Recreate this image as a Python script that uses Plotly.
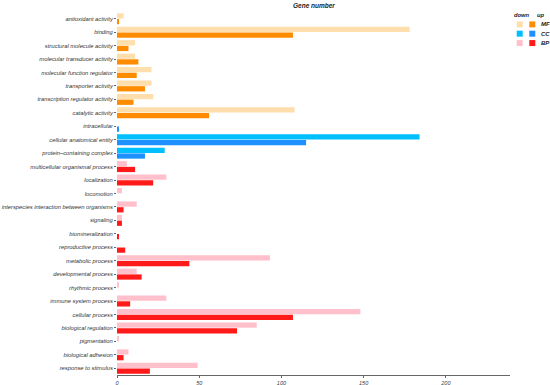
import plotly.graph_objects as go

categories = [
    "antioxidant activity", "binding", "structural molecule activity",
    "molecular transducer activity", "molecular function regulator",
    "transporter activity", "transcription regulator activity", "catalytic activity",
    "intracellular", "cellular anatomical entity", "protein\u2013containing complex",
    "multicellular organismal process", "localization", "locomotion",
    "interspecies interaction between organisms", "signaling", "biomineralization",
    "reproductive process", "metabolic process", "developmental process",
    "rhythmic process", "immune system process", "cellular process",
    "biological regulation", "pigmentation", "biological adhesion",
    "response to stimulus",
]
groups = ["MF"] * 8 + ["CC"] * 3 + ["BP"] * 16
down_values = [4, 178, 11, 11, 21, 21, 22, 108,
               0, 184, 29,
               6, 30, 3, 12, 3, 0, 0, 93, 12, 1, 30, 148, 85, 1, 7, 49]
up_values = [1, 107, 7, 13, 12, 17, 10, 56,
             1, 115, 17,
             11, 22, 0, 4, 3, 1, 5, 44, 15, 0, 8, 107, 73, 0, 4, 20]
x_ticks = [0, 50, 100, 150, 200]

down_colors = {"MF": "#FFDEAD", "CC": "#00BFFF", "BP": "#FFC0CB"}
up_colors = {"MF": "#FF8C00", "CC": "#1E90FF", "BP": "#FF1A1A"}
legend_groups = ["MF", "CC", "BP"]

FONT = "Liberation Sans"

W, H = 550, 385
PLOT_L, PLOT_R, PLOT_T, PLOT_B = 117, 510, 11.6, 375

fig = go.Figure()
fig.add_trace(go.Bar(
    y=categories, x=down_values, orientation="h", name="down",
    marker=dict(color=[down_colors[g] for g in groups], line=dict(width=0)),
    showlegend=False,
))
fig.add_trace(go.Bar(
    y=categories, x=up_values, orientation="h", name="up",
    marker=dict(color=[up_colors[g] for g in groups], line=dict(width=0)),
    showlegend=False,
))

fig.update_layout(
    width=W, height=H,
    margin=dict(l=PLOT_L, r=W - PLOT_R, t=PLOT_T, b=H - PLOT_B, pad=0),
    paper_bgcolor="white", plot_bgcolor="white",
    barmode="group", bargap=0.15, bargroupgap=0.08,
    font=dict(family=FONT, color="#333333"),
)
fig.update_xaxes(
    range=[0, 239], tickvals=x_ticks, ticktext=[f"<i>{t}</i>" for t in x_ticks],
    showgrid=False, zeroline=False, showline=True, linecolor="#666666", linewidth=1,
    ticks="outside", ticklen=2, tickcolor="#666666",
    tickfont=dict(size=5.5, color="#444444"), automargin=False,
)
fig.update_yaxes(
    autorange="reversed", showgrid=False, showline=False,
    ticks="outside", ticklen=2, tickcolor="#666666",
    tickvals=categories, ticktext=[f"<i>{c}</i>" for c in categories],
    tickfont=dict(size=5.8, color="#333333"), automargin=False,
)


def px_to_paper(px, py):
    return ((px - PLOT_L) / (PLOT_R - PLOT_L), (PLOT_B - py) / (PLOT_B - PLOT_T))


def add_text(text, px, py, anchor="center", size=5.8):
    x, y = px_to_paper(px, py)
    fig.add_annotation(text=text, x=x, y=y, xref="paper", yref="paper", showarrow=False,
                       font=dict(size=size, color="#222222"), xanchor=anchor,
                       yanchor="middle")


# title
add_text("<b><i>Gene number</i></b>", 314, 5.5, size=6.5)

# custom legend
add_text("<b><i>down</i></b>", 522, 15)
add_text("<b><i>up</i></b>", 541, 15)
rows_y = [24, 33.3, 42.7]
for g, py in zip(legend_groups, rows_y):
    for col_x, cmap in [(519.7, down_colors), (532.3, up_colors)]:
        x0, y0 = px_to_paper(col_x - 3, py + 3)
        x1, y1 = px_to_paper(col_x + 3, py - 3)
        fig.add_shape(type="rect", xref="paper", yref="paper", x0=x0, y0=y0, x1=x1, y1=y1,
                      fillcolor=cmap[g], line=dict(width=0))
    add_text(f"<b><i>{g}</i></b>", 538.5, py, anchor="left", size=6)

fig.write_html(
    "out.html",
    config={"displayModeBar": False},
    post_script="document.body.style.margin='0';document.body.style.overflow='hidden';",
)
